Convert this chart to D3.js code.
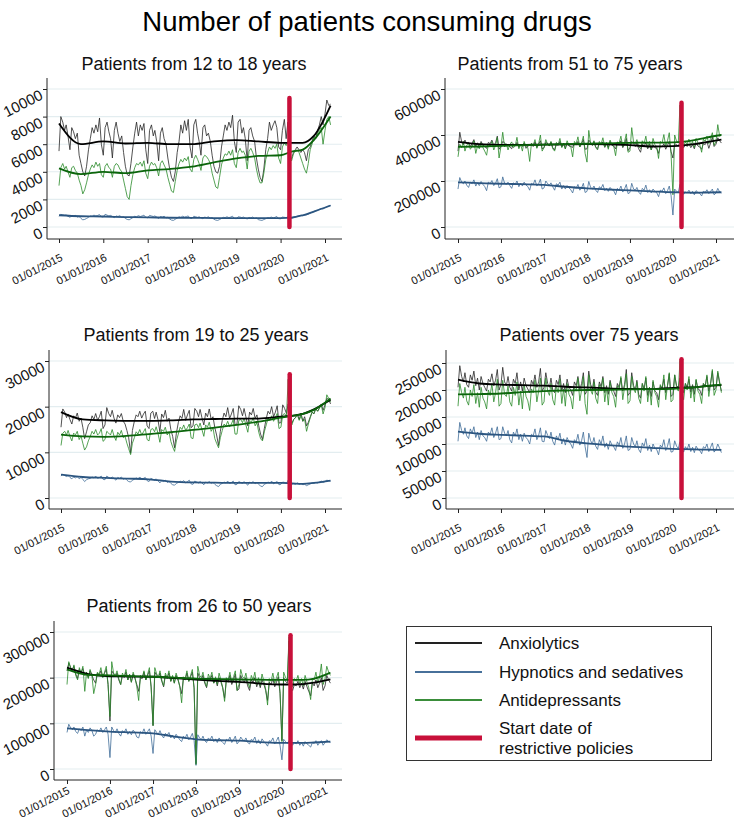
<!DOCTYPE html>
<html><head><meta charset="utf-8">
<script src="https://cdn.jsdelivr.net/npm/d3@7"></script>
<style>
body{margin:0;background:#fff}
svg{display:block;font-family:"Liberation Sans",Arial,Helvetica,sans-serif}
</style></head>
<body><svg id="c" width="734" height="820"></svg>
<script>
// ---------------- DATA (values in thousands of patients) ----------------
const UNIT = 1000;
const seriesNames = ["Anxiolytics", "Hypnotics and sedatives", "Antidepressants"];
const panelTitles = ["Patients from 12 to 18 years", "Patients from 51 to 75 years",
  "Patients from 19 to 25 years", "Patients over 75 years", "Patients from 26 to 50 years"];
const xTickYears = [2015, 2016, 2017, 2018, 2019, 2020, 2021];
const policyDate = "2020-03-14";
const policyTop = [9.35, 540, 27.1, 257, 293];
const yTicks1 = [0, 2, 4, 6, 8, 10];
const yTicks2 = [0, 200, 400, 600];
const yTicks3 = [0, 10, 20, 30];
const yTicks4 = [0, 50, 100, 150, 200, 250];
const yTicks5 = [0, 100, 200, 300];
// semi-monthly observations (1st and 16th of each month), Jan 2015 - Feb 2021
const trendDates = ["2015-01-01","2015-07-01","2016-01-01","2016-07-01","2017-01-01","2017-07-01",
  "2018-01-01","2018-07-01","2019-01-01","2019-07-01","2020-01-01","2020-04-01","2020-07-01","2020-10-01","2021-02-16"];

// 12-18
const p1_anx = [5.5,8.0,7.6,7.0,7.4,6.6,5.6,7.2,6.9,6.4,6.8,5.2,4.6,4.0,3.7,4.4,5.6,6.4,7.2,6.8,7.4,6.9,7.9,6.0,
 5.2,7.2,7.6,6.9,6.4,5.0,7.0,7.6,6.8,6.2,6.6,5.4,4.4,3.8,3.7,4.6,5.8,6.8,7.6,6.6,7.4,7.0,7.5,5.6,
 4.6,7.0,7.4,6.6,7.0,6.2,4.8,6.8,7.2,6.4,6.0,5.0,4.2,3.6,3.3,4.0,5.4,6.2,7.4,6.8,7.7,7.0,7.8,5.8,
 5.0,7.4,7.8,6.8,6.2,5.2,7.2,7.4,6.6,6.8,6.2,5.2,4.4,4.0,3.9,4.4,5.8,6.6,7.4,7.0,7.6,7.2,8.1,6.2,
 5.4,7.6,7.8,6.8,7.2,6.4,4.8,7.0,7.2,6.6,6.2,5.0,4.2,3.6,3.3,4.2,5.6,6.4,7.6,7.0,7.4,7.7,7.2,5.8,
 5.6,7.0,7.8,6.4,7.6,4.7,5.0,5.4,5.6,5.8,5.6,5.4,5.6,5.4,4.8,5.6,5.8,6.2,6.6,6.4,7.0,7.4,8.0,7.4,
 8.2,9.2,8.8,8.9];
const p1_hyp = [0.78,0.92,0.88,0.84,0.86,0.78,0.70,0.82,0.78,0.84,0.72,0.76,0.62,0.52,0.55,0.62,0.70,0.80,0.78,0.86,0.80,0.84,0.90,0.74,
 0.72,0.92,0.86,0.80,0.84,0.76,0.68,0.80,0.76,0.82,0.70,0.74,0.62,0.55,0.52,0.60,0.68,0.78,0.74,0.82,0.76,0.80,0.86,0.70,
 0.66,0.84,0.80,0.76,0.80,0.72,0.62,0.76,0.72,0.78,0.66,0.70,0.58,0.50,0.48,0.56,0.64,0.74,0.70,0.78,0.72,0.76,0.80,0.64,
 0.62,0.78,0.74,0.70,0.74,0.66,0.60,0.72,0.68,0.74,0.64,0.68,0.56,0.50,0.48,0.54,0.62,0.70,0.68,0.74,0.68,0.72,0.78,0.62,
 0.60,0.74,0.72,0.68,0.72,0.64,0.58,0.70,0.66,0.72,0.62,0.66,0.54,0.50,0.48,0.54,0.60,0.68,0.66,0.72,0.66,0.70,0.76,0.60,
 0.60,0.72,0.70,0.68,0.74,0.62,0.62,0.68,0.74,0.78,0.80,0.84,0.82,0.86,0.88,0.92,1.00,1.08,1.12,1.20,1.22,1.28,1.34,1.30,
 1.40,1.48,1.52,1.56];
const p1_ant = [3.0,4.3,4.6,4.2,4.4,4.0,3.6,4.3,4.4,4.1,3.9,3.4,3.0,2.4,2.7,3.2,3.8,4.2,4.5,4.3,4.7,4.4,4.6,3.8,
 3.6,4.4,4.6,4.3,4.2,3.6,4.4,4.6,4.5,4.2,4.0,3.4,2.8,2.2,2.0,3.0,3.8,4.3,4.6,4.5,4.7,4.4,4.8,3.9,
 3.5,4.4,4.7,4.5,4.6,4.3,3.7,4.6,4.8,4.5,4.2,3.6,3.1,2.6,2.5,3.3,4.1,4.6,4.9,4.7,5.0,4.8,5.1,4.2,
 4.0,4.9,5.2,4.9,4.6,4.1,5.0,5.2,5.1,4.9,4.6,3.9,3.4,2.9,2.8,3.6,4.5,5.0,5.3,5.2,5.5,5.2,5.6,4.6,
 4.3,5.4,5.7,5.4,5.5,5.2,4.2,5.5,5.7,5.4,5.0,4.2,3.6,3.2,3.2,3.9,4.9,5.4,5.8,5.6,5.9,5.7,6.0,5.0,
 4.6,5.8,6.1,5.9,6.2,5.0,4.8,5.3,5.5,5.6,5.4,5.0,4.6,4.2,3.9,4.6,5.6,6.0,6.5,6.4,6.8,7.0,7.2,6.0,
 7.0,7.8,8.0,7.4];
const p1_anx_trend = [7.5,6.0,6.2,6.05,6.1,6.0,6.0,6.2,6.3,6.2,6.1,6.1,6.1,6.6,8.8];
const p1_hyp_trend = [0.85,0.78,0.76,0.72,0.70,0.67,0.66,0.65,0.64,0.64,0.65,0.68,0.85,1.12,1.56];
const p1_ant_trend = [4.25,3.83,4.0,3.9,4.1,4.2,4.37,4.68,4.97,5.15,5.2,5.46,5.6,6.3,8.0];

// 51-75
const p2_anx = [330,412,370,358,378,362,368,348,365,380,352,366,345,372,356,350,342,368,362,378,355,366,395,338,
 350,372,366,355,360,348,340,362,352,368,346,360,350,365,342,352,355,362,350,370,346,360,375,340,
 345,368,362,352,370,345,335,360,355,372,348,362,340,366,352,350,346,365,358,372,348,362,380,338,
 340,378,366,355,372,348,340,366,358,370,346,364,345,372,355,352,340,368,356,375,345,360,385,332,
 345,372,362,350,365,340,325,362,352,366,340,360,335,358,345,342,320,352,348,362,338,355,372,328,
 300,362,358,352,372,365,345,358,350,362,345,358,340,366,352,348,338,362,358,372,342,365,390,350,
 360,388,375,365];
const p2_hyp = [165,215,195,188,200,182,172,195,188,205,178,192,180,198,185,176,158,195,188,202,180,190,210,170,
 175,218,190,185,195,180,168,192,185,200,175,190,178,195,182,176,160,190,185,205,178,188,208,165,
 170,200,188,182,192,175,160,188,182,195,165,180,165,180,170,162,148,175,168,185,160,170,190,150,
 155,198,172,165,178,160,150,175,168,185,158,168,155,172,162,158,140,168,160,178,152,165,185,145,
 150,190,165,160,172,152,142,168,160,182,150,162,148,165,155,150,132,160,155,170,145,158,178,138,
 52,165,155,150,185,160,142,152,148,160,145,155,140,158,150,146,135,155,150,162,145,155,165,140,
 148,168,152,148];
const p2_ant = [305,360,345,372,330,355,362,338,350,375,320,352,340,366,345,330,312,360,352,372,335,355,390,300,
 350,412,348,362,335,358,370,345,352,390,340,360,330,372,350,345,285,365,355,380,342,362,400,330,
 345,380,360,352,372,340,330,368,358,385,345,365,340,375,355,350,305,372,362,392,348,365,395,320,
 282,420,362,355,375,345,335,372,360,388,348,368,338,378,358,352,310,370,365,395,350,372,405,325,
 330,432,368,360,380,350,340,375,362,395,345,372,335,385,358,350,298,372,365,402,350,375,410,318,
 140,400,372,368,530,385,352,370,360,382,355,372,345,385,365,358,325,382,372,395,362,385,410,355,
 372,445,395,402];
const p2_anx_trend = [370,360,357,357,358,359,360,359,356,350,352,355,360,368,380];
const p2_hyp_trend = [194,191,188,186,183,175,168,163,159,155,151,150,149,150,151];
const p2_ant_trend = [348,350,353,356,358,360,362,364,366,367,368,371,378,388,400];

// 19-25
const p3_anx = [15.5,19.5,18.8,17.6,18.4,17.2,16.2,18.0,17.5,18.6,16.8,17.5,15.5,13.0,14.5,16.0,16.5,18.0,17.2,18.5,17.0,17.8,19.0,15.2,
 16.0,19.8,18.5,17.8,19.2,17.5,16.4,18.2,17.6,18.5,16.8,16.2,14.8,13.2,9.8,14.8,16.8,18.2,17.8,19.0,17.5,18.4,19.0,15.8,
 15.2,18.6,19.0,17.4,18.8,17.2,14.5,18.4,17.6,19.2,16.8,17.5,15.0,13.5,11.0,14.2,16.5,18.0,17.4,19.4,17.0,18.2,19.2,15.4,
 15.8,19.6,19.0,17.8,19.4,17.6,16.0,18.6,17.8,19.5,17.2,17.8,15.4,13.8,11.5,14.6,17.0,18.6,17.8,19.8,17.4,18.4,19.6,16.0,
 16.2,20.2,19.4,18.0,19.6,17.8,15.8,18.8,18.2,19.6,17.4,18.2,15.8,14.0,12.8,15.2,17.4,19.0,18.4,20.0,17.8,18.8,20.2,16.4,
 16.5,20.4,19.6,18.5,20.6,16.8,16.4,17.2,17.6,18.4,17.2,18.6,16.8,17.8,15.8,16.6,17.8,18.8,18.4,19.6,19.0,19.8,20.6,19.2,
 20.4,21.8,21.6,20.6];
const p3_hyp = [4.8,5.2,4.9,4.7,4.9,4.5,4.2,4.6,4.4,4.7,4.2,4.5,4.1,3.6,4.0,4.2,4.3,4.6,4.4,4.8,4.3,4.5,4.8,4.1,
 4.0,4.8,4.5,4.3,4.6,4.3,3.9,4.5,4.3,4.6,4.1,4.3,3.9,3.6,3.5,3.9,4.1,4.4,4.2,4.6,4.1,4.3,4.5,3.8,
 3.6,4.3,4.1,3.9,4.2,3.8,3.3,3.8,3.6,3.9,3.4,3.6,3.2,2.9,2.8,3.2,3.4,3.7,3.5,3.8,3.3,3.6,3.9,3.1,
 3.0,3.7,3.5,3.3,3.6,3.3,2.9,3.5,3.3,3.6,3.2,3.4,3.0,2.7,2.5,3.0,3.2,3.5,3.3,3.7,3.2,3.4,3.7,2.9,
 3.0,3.6,3.4,3.2,3.6,3.2,2.8,3.5,3.3,3.6,3.1,3.4,3.0,2.6,2.5,3.0,3.2,3.5,3.3,3.7,3.1,3.4,3.6,2.9,
 3.0,3.5,3.4,3.2,3.9,3.2,3.0,3.1,3.0,3.3,3.0,3.2,2.9,3.0,2.7,2.9,3.1,3.3,3.2,3.4,3.3,3.5,3.7,3.4,
 3.6,3.9,3.8,3.7];
const p3_ant = [11.5,14.2,14.6,13.8,14.8,13.5,12.5,14.2,13.8,14.6,12.8,13.6,12.0,10.5,11.2,12.5,13.5,14.6,14.0,15.0,13.8,14.2,15.2,12.4,
 12.8,14.6,14.2,13.8,15.0,13.6,12.6,14.4,13.8,14.8,13.2,13.5,12.0,10.8,9.5,12.0,13.2,14.5,14.0,15.0,13.8,14.5,15.2,12.8,
 12.5,15.0,15.2,14.5,15.6,14.2,12.2,15.0,14.6,15.5,13.8,14.5,12.4,11.2,10.2,12.5,14.0,15.5,15.0,16.0,14.8,15.4,16.2,13.2,
 13.0,16.0,16.2,15.4,16.4,15.0,13.5,16.0,15.5,16.6,14.6,15.4,13.0,12.0,11.0,13.2,14.8,16.2,15.8,16.8,15.6,16.2,17.2,14.0,
 14.0,17.0,17.2,16.5,17.5,16.0,14.4,17.0,16.6,17.6,15.8,16.5,14.4,13.0,12.5,14.5,16.0,17.5,17.0,18.0,16.8,17.6,18.5,15.2,
 15.5,18.2,18.5,17.8,26.0,17.0,16.0,17.2,17.6,18.2,17.0,18.0,16.8,17.2,14.6,16.2,17.6,18.8,18.5,19.5,19.0,19.6,20.4,18.4,
 19.8,22.6,21.8,21.0];
const p3_anx_trend = [18.8,17.2,17.0,16.9,16.9,17.0,17.2,17.3,17.4,17.4,17.8,18.0,18.4,19.4,21.5];
const p3_hyp_trend = [5.1,4.6,4.4,4.25,4.1,3.6,3.4,3.35,3.3,3.3,3.3,3.2,3.1,3.3,3.8];
const p3_ant_trend = [13.9,13.5,13.4,13.6,14.0,14.4,14.9,15.4,16.0,16.7,17.6,18.0,18.4,19.3,21.8];

// over 75
const p4_anx = [205,245,225,215,232,210,205,228,218,235,208,222,200,225,212,205,198,220,215,230,208,218,238,200,
 210,242,215,208,225,205,198,220,212,232,200,215,198,222,208,202,195,218,210,228,205,215,240,198,
 205,232,212,205,222,200,195,218,210,228,198,212,195,220,205,200,190,215,208,225,200,212,232,192,
 198,235,210,202,220,196,190,215,206,225,195,208,192,218,202,198,188,212,205,222,198,210,238,190,
 195,232,208,200,218,192,185,212,202,222,190,205,188,215,198,195,182,208,202,220,195,208,230,188,
 192,228,208,205,222,210,195,212,205,220,196,210,192,218,202,200,190,212,208,225,198,212,235,200,
 205,232,212,198];
const p4_hyp = [105,140,125,118,130,115,110,128,120,132,112,122,108,125,115,112,105,122,118,130,112,120,132,108,
 110,132,120,115,125,108,102,122,115,128,108,118,105,120,112,108,100,118,115,128,108,116,130,105,
 104,125,116,110,122,105,98,115,108,120,100,110,98,112,104,100,92,108,104,118,98,106,122,95,
 75,120,106,100,112,96,90,108,100,115,94,102,90,106,98,95,88,104,98,112,92,100,115,88,
 90,112,100,95,106,90,84,102,96,110,88,98,86,100,92,90,80,98,94,108,88,96,110,85,
 86,106,96,92,104,98,85,95,90,100,86,94,84,96,90,88,82,95,92,100,86,94,102,85,
 90,100,92,84];
const p4_ant = [170,212,195,185,205,180,172,200,188,210,175,195,168,205,185,178,165,200,190,212,178,195,220,170,
 175,218,192,188,208,178,170,205,190,215,172,198,165,210,188,180,162,202,195,218,178,198,222,172,
 178,222,198,190,212,182,172,208,195,220,175,202,170,212,192,185,165,205,198,222,180,200,225,175,
 155,228,200,192,215,185,175,210,198,222,178,205,172,215,195,188,168,208,200,225,182,205,230,175,
 180,225,202,195,215,185,175,212,198,225,178,205,172,218,195,188,168,210,202,228,182,208,232,178,
 182,228,205,198,255,195,182,212,200,225,185,208,178,220,198,192,175,212,205,228,188,212,238,190,
 200,235,215,195];
const p4_anx_trend = [219,212,210,209,208,206,205,203,202,201.5,204,204.5,205,207,209];
const p4_hyp_trend = [123,119,117,115.5,114,106,101,98,95,93,91,90.5,90,89.5,89];
const p4_ant_trend = [192,192.5,193.5,196,198,199,200,200.5,201,201.5,202,203.5,205,207,210];

// 26-50
const p5_anx = [215,232,222,218,225,208,198,218,212,220,205,212,200,215,205,195,188,210,205,215,202,210,218,185,
 105,215,208,202,210,195,185,205,200,212,195,205,190,208,198,185,170,200,198,212,195,205,215,180,
 95,212,205,200,210,192,180,205,198,210,192,202,188,205,195,182,165,198,195,210,192,202,212,178,
 12,210,200,195,205,188,178,200,195,205,188,198,182,200,190,178,155,195,190,205,185,195,208,172,
 175,205,195,190,200,182,172,195,190,200,180,192,178,195,185,172,150,190,185,198,180,190,202,165,
 62,200,192,188,280,178,172,185,182,192,178,188,175,192,180,170,160,188,182,195,178,188,200,172,
 182,205,195,188];
const p5_hyp = [80,98,90,86,92,82,78,88,84,92,72,85,80,90,84,72,76,86,82,90,80,86,92,76,
 25,92,84,80,88,78,72,84,80,88,76,82,75,85,80,70,68,82,78,88,76,82,88,72,
 34,86,80,76,84,74,68,78,74,80,68,74,66,76,70,64,60,72,68,76,64,70,78,62,
 8,75,68,64,72,62,58,68,64,72,60,66,58,68,62,58,54,65,62,70,58,64,72,55,
 60,70,64,62,68,58,55,65,62,70,56,64,55,66,60,56,50,62,60,68,55,62,70,52,
 20,65,60,56,62,58,52,58,55,62,52,58,50,60,55,52,48,58,56,62,52,58,62,52,
 58,64,60,58];
const p5_ant = [185,235,222,215,228,205,195,222,210,225,170,212,198,218,205,165,185,212,208,222,200,212,225,185,
 115,235,210,205,215,198,185,210,202,218,195,208,190,212,200,180,150,205,200,215,195,208,222,178,
 95,222,208,202,215,195,182,210,200,215,192,205,188,210,198,180,145,202,198,215,192,205,218,175,
 10,225,205,200,212,192,180,208,198,212,188,202,185,210,195,178,148,200,195,212,190,202,215,172,
 185,218,202,198,210,190,178,205,195,212,185,200,182,208,192,175,140,198,192,210,188,200,212,170,
 60,212,200,195,290,185,180,198,192,205,185,198,182,205,190,178,152,198,195,212,188,202,230,185,
 198,225,212,205];
const p5_anx_trend = [222,208,203,202.5,202,199,196,193,191,187,185,185,186,189,196];
const p5_hyp_trend = [89,85,82,80,78,71,65,63,62,59,57,57,57,58,60];
const p5_ant_trend = [218,206,205,203.5,202,200,198,197,196,195.5,195,195,195,198,211];

// ---------------- CHART ----------------
const parse = d3.timeParse("%Y-%m-%d");
const months = d3.timeMonth.range(new Date(2015,0,1), new Date(2021,2,1));
const dates = months.flatMap(m => [m, new Date(m.getFullYear(), m.getMonth(), 16)]);
const tDates = trendDates.map(parse);
const xTicks = xTickYears.map(y => new Date(y,0,1));

const panels = [
  {title: panelTitles[0], ticks: yTicks1, raw:[p1_anx,p1_hyp,p1_ant], trend:[p1_anx_trend,p1_hyp_trend,p1_ant_trend], top: policyTop[0]},
  {title: panelTitles[1], ticks: yTicks2, raw:[p2_anx,p2_hyp,p2_ant], trend:[p2_anx_trend,p2_hyp_trend,p2_ant_trend], top: policyTop[1]},
  {title: panelTitles[2], ticks: yTicks3, raw:[p3_anx,p3_hyp,p3_ant], trend:[p3_anx_trend,p3_hyp_trend,p3_ant_trend], top: policyTop[2]},
  {title: panelTitles[3], ticks: yTicks4, raw:[p4_anx,p4_hyp,p4_ant], trend:[p4_anx_trend,p4_hyp_trend,p4_ant_trend], top: policyTop[3]},
  {title: panelTitles[4], ticks: yTicks5, raw:[p5_anx,p5_hyp,p5_ant], trend:[p5_anx_trend,p5_hyp_trend,p5_ant_trend], top: policyTop[4]}
];
// layout (pixels)
const layout = [
  {ax:47,  x0:59,  x1:325, right:342, top:78,  bottom:239, y0:227, yTop:89,  tx:194, ty:70,  lx:[4,21]},
  {ax:445, x0:458, x1:716, right:734, top:78,  bottom:239, y0:227, yTop:89,  tx:570, ty:70,  lx:[4,21]},
  {ax:49,  x0:61,  x1:325, right:342, top:350, bottom:509, y0:498, yTop:361, tx:196, ty:341, lx:[4,21]},
  {ax:446, x0:458, x1:716, right:734, top:350, bottom:509, y0:498, yTop:363, tx:589, ty:341, lx:[4,21]},
  {ax:54,  x0:67,  x1:325, right:342, top:621, bottom:780, y0:769, yTop:632, tx:199, ty:612, lx:[3,13]}
];
const rawColors = ["#262626", "#3f6c98", "#2a8a2a"];
const trendColors = ["#000000", "#2b5580", "#0b650b"];
const legendColors = ["#222222", "#47709a", "#3a8d3a"];
const red = "#c8103a";
const grid = "#e3edf0";

const svg = d3.select("#c");
svg.append("text").attr("x", 367).attr("y", 31).attr("text-anchor","middle")
  .attr("font-size", 27.5).attr("fill","#000").text("Number of patients consuming drugs");

panels.forEach((p, i) => {
  const L = layout[i];
  const g = svg.append("g");
  const x = d3.scaleTime().domain([xTicks[0], xTicks[xTicks.length-1]]).range([L.x0, L.x1]);
  const y = d3.scaleLinear().domain([0, d3.max(p.ticks) * UNIT]).range([L.y0, L.yTop]);

  g.append("text").attr("x", L.tx).attr("y", L.ty).attr("text-anchor","middle")
    .attr("font-size", 18).attr("fill","#111").text(p.title);

  g.selectAll("line.grid").data(p.ticks).join("line").attr("class","grid")
    .attr("x1", L.ax).attr("x2", L.right)
    .attr("y1", d => y(d*UNIT)).attr("y2", d => y(d*UNIT))
    .attr("stroke", grid).attr("stroke-width", 1.1);

  // y axis
  const ya = g.append("g").attr("transform", `translate(${L.ax},0)`)
    .call(d3.axisLeft(y).tickValues(p.ticks.map(t => t*UNIT)).tickSize(4).tickFormat(d3.format("d")));
  ya.select(".domain").remove();
  ya.selectAll(".tick line").attr("stroke","#222");
  ya.selectAll(".tick text").attr("x", null).attr("dy", null).attr("y", null)
    .attr("text-anchor","end").attr("font-size", 15).attr("font-family", null).attr("fill","#111")
    .attr("transform","translate(-3,9) rotate(-27)");
  g.append("line").attr("x1", L.ax).attr("x2", L.ax).attr("y1", L.top).attr("y2", L.bottom)
    .attr("stroke","#222").attr("stroke-width",1);

  // x axis
  const xa = g.append("g").attr("transform", `translate(0,${L.bottom})`)
    .call(d3.axisBottom(x).tickValues(xTicks).tickSize(4).tickFormat(d3.timeFormat("%d/%m/%Y")));
  xa.select(".domain").remove();
  xa.selectAll(".tick line").attr("stroke","#222");
  xa.selectAll(".tick text").attr("x", null).attr("dy", null).attr("y", null)
    .attr("text-anchor","end").attr("font-size", 11).attr("font-family", null).attr("fill","#111")
    .attr("transform",`translate(${L.lx[0]},${L.lx[1]}) rotate(-27)`);
  g.append("line").attr("x1", L.ax).attr("x2", L.right).attr("y1", L.bottom).attr("y2", L.bottom)
    .attr("stroke","#222").attr("stroke-width",1);

  const rawLine = d3.line().x((d, k) => x(dates[k])).y(d => y(d*UNIT));
  const trendLine = d3.line().x((d, k) => x(tDates[k])).y(d => y(d*UNIT)).curve(d3.curveMonotoneX);

  p.raw.forEach((s, j) => {
    g.append("path").datum(s.slice(0, dates.length)).attr("d", rawLine)
      .attr("fill","none").attr("stroke", rawColors[j]).attr("stroke-width", 0.8)
      .attr("stroke-linejoin","round");
  });
  p.trend.forEach((s, j) => {
    g.append("path").datum(s).attr("d", trendLine)
      .attr("fill","none").attr("stroke", trendColors[j]).attr("stroke-width", 1.8);
  });

  const px = x(parse(policyDate));
  g.append("line").attr("x1", px).attr("x2", px).attr("y1", y(p.top*UNIT)).attr("y2", y(0))
    .attr("stroke", red).attr("stroke-width", 4.5).attr("stroke-linecap","round");
});

// legend
const lg = svg.append("g");
lg.append("rect").attr("x", 406.5).attr("y", 626.5).attr("width", 305).attr("height", 134)
  .attr("fill","#fff").attr("stroke","#333").attr("stroke-width",1);
const legendItems = [
  {label:[seriesNames[0]], color: legendColors[0], w: 2, ly: 643, ty: [649]},
  {label:[seriesNames[1]], color: legendColors[1], w: 2, ly: 672, ty: [678]},
  {label:[seriesNames[2]], color: legendColors[2], w: 2, ly: 700, ty: [706]},
  {label:["Start date of", "restrictive policies"], color: red, w: 5, ly: 738, ty: [734, 754]}
];
legendItems.forEach(it => {
  lg.append("line").attr("x1", 415).attr("x2", 482).attr("y1", it.ly).attr("y2", it.ly)
    .attr("stroke", it.color).attr("stroke-width", it.w);
  it.label.forEach((t, k) => {
    lg.append("text").attr("x", 499).attr("y", it.ty[k]).attr("font-size", 17)
      .attr("fill","#111").text(t);
  });
});
</script>
</body></html>
